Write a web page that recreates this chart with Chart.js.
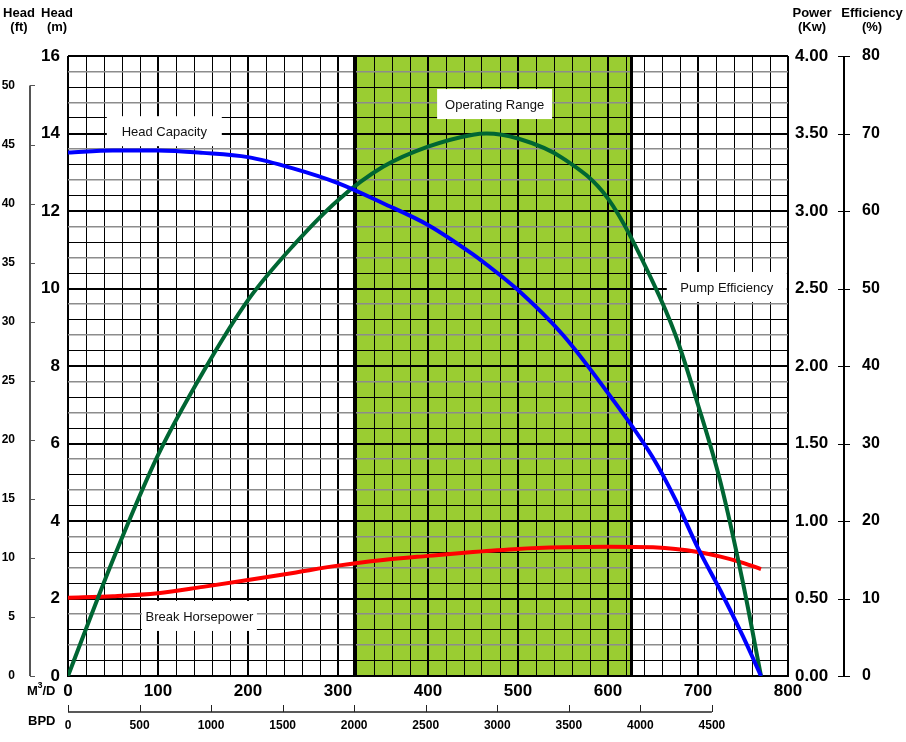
<!DOCTYPE html>
<html>
<head>
<meta charset="utf-8">
<title>Pump performance curve</title>
<script src="https://cdn.jsdelivr.net/npm/chart.js@4.4.1/dist/chart.umd.min.js"></script>
<style>
  html, body { margin: 0; padding: 0; background: #fff; }
  #wrap { width: 906px; height: 742px; position: relative; }
</style>
</head>
<body>
<div id="wrap"><canvas id="pumpChart"></canvas></div>
<script>
// flow rate in m3/d
let flow    = [0, 50, 100, 150, 200, 250, 300, 350, 400, 450, 465, 500, 550, 600, 650, 675, 700, 725, 750, 770];
let headM   = [13.51, 13.56, 13.56, 13.5, 13.39, 13.1, 12.72, 12.2, 11.64, 10.88, 10.62, 9.96, 8.8, 7.3, 5.63, 4.55, 3.3, 2.2, 1.02, 0];
let effPct  = [0, 15.0, 28.5, 39.2, 48.5, 55.5, 61.4, 65.7, 68.3, 69.85, 70.0, 69.35, 66.8, 61.6, 50.8, 44, 35, 25, 12, 0];
let powerKw = [0.505, 0.515, 0.534, 0.575, 0.619, 0.665, 0.712, 0.748, 0.775, 0.80, 0.806, 0.82, 0.83, 0.834, 0.83, 0.82, 0.80, 0.77, 0.73, 0.69];

let opRange = [318, 625];          // m3/d
let bpdTicks = [0, 500, 1000, 1500, 2000, 2500, 3000, 3500, 4000, 4500];
let M3_PER_BBL = 0.158987;
let FT_PER_M = 3.28084;

// text boxes on the plot: [text, flow m3/d, head m, box width]
let notes = [
  ['Head Capacity', 107, 14.06, 115],
  ['Operating Range', 474, 14.76, 115],
  ['Pump Efficiency', 732, 10.04, 120],
  ['Break Horsepower', 146, 1.55, 115]
];

const FONT = 'Arial, "Liberation Sans", sans-serif';

function pts(arr) {
  return flow.map((f, i) => ({ x: f, y: arr[i] }));
}

function hGridColor(v) {
  const j = Math.round(v / 0.4) % 5;
  return (j === 2 || j === 4) ? '#8c8c8c' : '#000';
}
function hGridWidth(v) {
  const j = Math.round(v / 0.4) % 5;
  if (j === 0) return 2;
  return (j === 2 || j === 4) ? 1.5 : 1;
}

const decor = {
  id: 'decor',
  beforeDraw(chart) {
    const { ctx, chartArea: a, scales: { x } } = chart;
    ctx.save();
    ctx.fillStyle = '#fff';
    ctx.fillRect(0, 0, chart.width, chart.height);
    const x0 = x.getPixelForValue(opRange[0]);
    const x1 = x.getPixelForValue(opRange[1]);
    ctx.fillStyle = '#9acd32';
    ctx.fillRect(x0, a.top, x1 - x0, a.bottom - a.top);
    ctx.restore();
  },
  beforeDatasetsDraw(chart) {
    const { ctx, chartArea: a, scales: { x, y } } = chart;
    ctx.save();
    // range borders
    ctx.strokeStyle = '#000';
    ctx.lineWidth = 3;
    opRange.forEach(v => {
      const px = Math.round(x.getPixelForValue(v)) + 0.5;
      ctx.beginPath();
      ctx.moveTo(px, a.top);
      ctx.lineTo(px, a.bottom);
      ctx.stroke();
    });
    // label boxes
    ctx.font = '13px ' + FONT;
    ctx.textAlign = 'center';
    ctx.textBaseline = 'middle';
    notes.forEach(n => {
      const cx = x.getPixelForValue(n[1]);
      const cy = y.getPixelForValue(n[2]);
      ctx.fillStyle = '#fff';
      ctx.fillRect(cx - n[3] / 2, cy - 15, n[3], 30);
      ctx.fillStyle = '#111';
      ctx.fillText(n[0], cx, cy + 1);
    });
    ctx.restore();
  },
  afterDraw(chart) {
    const { ctx, scales: { x2, yFt, yEff } } = chart;
    ctx.save();

    // feet axis bracket
    const fx = yFt.right - 5;
    ctx.strokeStyle = '#555';
    ctx.lineWidth = 2;
    ctx.beginPath();
    ctx.moveTo(fx, yFt.getPixelForValue(50));
    ctx.lineTo(fx, yFt.getPixelForValue(0));
    ctx.stroke();
    for (let v = 0; v <= 50; v += 5) {
      const py = Math.round(yFt.getPixelForValue(v)) + 0.5;
      ctx.lineWidth = 1;
      ctx.beginPath();
      ctx.moveTo(fx, py);
      ctx.lineTo(fx + 5, py);
      ctx.stroke();
    }

    // efficiency axis line
    const ex = yEff.left;
    ctx.strokeStyle = '#000';
    ctx.lineWidth = 2;
    ctx.beginPath();
    ctx.moveTo(ex, yEff.getPixelForValue(80));
    ctx.lineTo(ex, yEff.getPixelForValue(0));
    ctx.stroke();
    ctx.lineWidth = 1;
    for (let v = 0; v <= 80; v += 10) {
      const py = Math.round(yEff.getPixelForValue(v)) + 0.5;
      ctx.beginPath();
      ctx.moveTo(ex - 6, py);
      ctx.lineTo(ex + 6, py);
      ctx.stroke();
    }

    // BPD axis line
    const by = x2.top + 7;
    ctx.strokeStyle = '#222';
    ctx.lineWidth = 1.5;
    ctx.beginPath();
    ctx.moveTo(x2.getPixelForValue(bpdTicks[0]), by);
    ctx.lineTo(x2.getPixelForValue(bpdTicks[bpdTicks.length - 1]), by);
    ctx.stroke();
    ctx.lineWidth = 1;
    bpdTicks.forEach(v => {
      const px = Math.round(x2.getPixelForValue(v)) + 0.5;
      ctx.beginPath();
      ctx.moveTo(px, by - 7);
      ctx.lineTo(px, by);
      ctx.stroke();
    });

    // headers
    ctx.fillStyle = '#000';
    ctx.font = 'bold 13px ' + FONT;
    ctx.textAlign = 'center';
    ctx.textBaseline = 'alphabetic';
    [['Head', '(ft)', 19], ['Head', '(m)', 57], ['Power', '(Kw)', 812], ['Efficiency', '(%)', 872]].forEach(h => {
      ctx.fillText(h[0], h[2], 17);
      ctx.fillText(h[1], h[2], 31);
    });

    // unit labels at the bottom left
    ctx.textAlign = 'left';
    ctx.fillText('M', 27, 695);
    ctx.font = 'bold 9px ' + FONT;
    ctx.fillText('3', 37.5, 688);
    ctx.font = 'bold 13px ' + FONT;
    ctx.fillText('/D', 42.5, 695);
    ctx.fillText('BPD', 28, 725);
    ctx.restore();
  }
};

new Chart(document.getElementById('pumpChart'), {
  type: 'line',
  data: {
    datasets: [
      { label: 'Head Capacity', data: pts(headM), yAxisID: 'y', borderColor: '#0000ff', borderWidth: 4, pointRadius: 0, cubicInterpolationMode: 'monotone' },
      { label: 'Pump Efficiency', data: pts(effPct), yAxisID: 'yEff', borderColor: '#006633', borderWidth: 4, pointRadius: 0, cubicInterpolationMode: 'monotone' },
      { label: 'Break Horsepower', data: pts(powerKw), yAxisID: 'yPow', borderColor: '#ff0000', borderWidth: 4, pointRadius: 0, cubicInterpolationMode: 'monotone' }
    ]
  },
  options: {
    responsive: true,
    maintainAspectRatio: false,
    animation: false,
    layout: { padding: { top: 56, left: 0, right: 0, bottom: 0 } },
    plugins: {
      legend: { display: false },
      tooltip: { enabled: false }
    },
    scales: {
      x: {
        type: 'linear', position: 'bottom', weight: 0, min: 0, max: 800,
        ticks: {
          stepSize: 20, autoSkip: false, maxRotation: 0, padding: 5, color: '#000',
          font: { family: FONT, size: 17, weight: 'bold' },
          callback: v => (v % 100 === 0 ? String(v) : '')
        },
        grid: {
          color: '#000', drawTicks: false,
          lineWidth: c => (c.tick && c.tick.value % 100 === 0 ? 2 : 1)
        },
        border: { color: '#000', width: 2 },
        afterFit: s => { s.height = 29; }
      },
      x2: {
        type: 'linear', position: 'bottom', weight: 1, min: 0, max: 800 / M3_PER_BBL,
        afterBuildTicks: s => { s.ticks = bpdTicks.map(v => ({ value: v })); },
        ticks: {
          autoSkip: false, maxRotation: 0, padding: 13, color: '#000',
          font: { family: FONT, size: 12, weight: 'bold' },
          callback: v => String(v)
        },
        grid: { display: false, drawTicks: false },
        border: { display: false },
        afterFit: s => { s.height = 37; }
      },
      y: {
        position: 'left', weight: 0, min: 0, max: 16,
        ticks: {
          stepSize: 0.4, autoSkip: false, padding: 8, color: '#000',
          font: { family: FONT, size: 17, weight: 'bold' },
          callback: v => (Math.round(v / 0.4) % 5 === 0 ? String(Math.round(v)) : '')
        },
        grid: {
          drawTicks: false,
          color: c => hGridColor(c.tick ? c.tick.value : 0),
          lineWidth: c => hGridWidth(c.tick ? c.tick.value : 0)
        },
        border: { display: false },
        afterFit: s => { s.width = 33; }
      },
      yFt: {
        position: 'left', weight: 1, min: 0, max: 16 * FT_PER_M,
        ticks: {
          stepSize: 5, autoSkip: false, padding: 20, color: '#000',
          font: { family: FONT, size: 12, weight: 'bold' },
          callback: v => (v % 5 === 0 ? String(v) : '')
        },
        grid: { display: false, drawTicks: false },
        border: { display: false },
        afterFit: s => { s.width = 35; }
      },
      yPow: {
        position: 'right', weight: 0, min: 0, max: 4,
        ticks: {
          stepSize: 0.5, autoSkip: false, padding: 7, color: '#000',
          font: { family: FONT, size: 17, weight: 'bold' },
          callback: v => v.toFixed(2)
        },
        grid: { display: false, drawTicks: false },
        border: { display: false },
        afterFit: s => { s.width = 56; }
      },
      yEff: {
        position: 'right', weight: 1, min: 0, max: 80,
        ticks: {
          stepSize: 10, autoSkip: false, padding: 18, color: '#000',
          font: { family: FONT, size: 16, weight: 'bold' }
        },
        grid: { display: false, drawTicks: false },
        border: { display: false },
        afterFit: s => { s.width = 62; }
      }
    }
  },
  plugins: [decor]
});
</script>
</body>
</html>
